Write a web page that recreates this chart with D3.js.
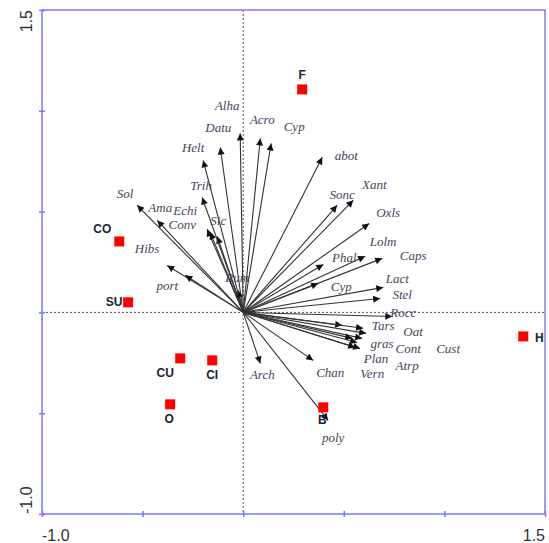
<!DOCTYPE html>
<html>
<head>
<meta charset="utf-8">
<script src="https://cdn.jsdelivr.net/npm/d3@7"></script>
<style>
  html, body { margin: 0; padding: 0; background: #fff; }
  svg { display: block; }
</style>
</head>
<body>
<svg id="chart" width="549" height="543"></svg>
<script>
// Species vectors (biplot arrows from the origin)
const speciesNames = ["Alha","Datu","Helt","Acro","Cyp","abot","Sonc","Xant","Oxls","Lolm",
  "Caps","Phal","Cyp","Lact","Stel","Rocc","Tars","Oat","gras","Cont","Cust","Plan","Vern","Atrp",
  "Chan","Arch","poly","Sol","Ama","Echi","Conv","Sic","Trih","Hibs","port","Rum"];
const speciesX = [-0.015,-0.114,-0.199,0.085,0.139,0.393,0.467,0.547,0.626,0.606,
  0.691,0.398,0.373,0.696,0.681,0.741,0.492,0.596,0.591,0.542,0.611,0.581,0.557,0.566,
  0.348,0.085,0.422,-0.527,-0.427,-0.179,-0.164,-0.129,-0.204,-0.378,-0.288,-0.025];
const speciesY = [0.888,0.818,0.754,0.863,0.838,0.769,0.531,0.556,0.441,0.278,
  0.268,0.238,0.144,0.124,0.069,-0.020,-0.064,-0.079,-0.129,-0.129,-0.104,-0.179,-0.174,-0.149,
  -0.238,-0.253,-0.536,0.531,0.456,0.412,0.397,0.377,0.570,0.233,0.184,0.109];

// Sites (sample scores)
const siteNames = ["F","CO","SU","H","CU","CI","O","B"];
const siteX = [0.293,-0.616,-0.572,1.392,-0.313,-0.154,-0.363,0.398];
const siteY = [1.106,0.352,0.050,-0.119,-0.228,-0.238,-0.456,-0.471];

// Axis tick labels (only the extremes are labelled)
const xTickLabels = ["-1.0","1.5"];
const yTickLabels = ["1.5","-1.0"];
const tickValues = [-1.0,-0.5,0,0.5,1.0,1.5];

// Label placement (pixel offsets from the arrow tip / site marker)
const speciesLabelOffset = [
  [-13,-28],[-2,-20],[-10,-13],[2,-19],[23,-17],[24,-2],[5,-11],[21,-16],[19,-11],[18,-15],
  [31,-3],[21,-7],[23,3],[14,-9],[22,-4],[11,-4],[41,0],[50,3],[20,5],[56,10],[82,15],[16,10],[17,26],[50,23],
  [17,12],[2,11],[5,17],[-12,-12],[3,-13],[-22,-19],[-28,-8],[1,-16],[-1,-12],[-20,-17],[-18,10],[-1,-13]
];
const siteLabelOffset = [[0,-15],[-17,-13],[-14,-1],[16,1],[-15,14],[0,14],[-1,14],[-1,12]];

const svg = d3.select("#chart");
const plotLeft = 42, plotRight = 545, plotTop = 10, plotBottom = 514;

const x = d3.scaleLinear().domain([-1.0, 1.5]).range([plotLeft, plotRight]);
const y = d3.scaleLinear().domain([-1.0, 1.5]).range([plotBottom, plotTop]);

// arrowhead marker
svg.append("defs").append("marker")
  .attr("id", "head")
  .attr("viewBox", "0 0 10 10")
  .attr("refX", 10).attr("refY", 5)
  .attr("markerWidth", 9).attr("markerHeight", 7)
  .attr("markerUnits", "userSpaceOnUse")
  .attr("orient", "auto")
  .append("path").attr("d", "M0,0 L10,5 L0,10 z").attr("fill", "#111");

// zero reference lines
svg.append("line")
  .attr("x1", x(0)).attr("x2", x(0)).attr("y1", plotTop).attr("y2", plotBottom)
  .attr("stroke", "#555").attr("stroke-width", 1).attr("stroke-dasharray", "2,2");
svg.append("line")
  .attr("x1", plotLeft).attr("x2", plotRight).attr("y1", y(0)).attr("y2", y(0))
  .attr("stroke", "#555").attr("stroke-width", 1).attr("stroke-dasharray", "2,2");

// frame
svg.append("rect")
  .attr("x", plotLeft).attr("y", plotTop).attr("width", plotRight - plotLeft).attr("height", plotBottom - plotTop)
  .attr("fill", "none").attr("stroke", "#7878ff").attr("stroke-width", 1.5);

// bottom and left axes: ticks only
const xAxis = d3.axisBottom(x).tickValues(tickValues).tickSize(3).tickFormat("");
const yAxis = d3.axisLeft(y).tickValues(tickValues).tickSize(3).tickFormat("");
const gx = svg.append("g").attr("transform", `translate(0,${plotBottom})`).call(xAxis);
const gy = svg.append("g").attr("transform", `translate(${plotLeft},0)`).call(yAxis);
[gx, gy].forEach(g => {
  g.select(".domain").remove();
  g.selectAll(".tick line").attr("stroke", "#7878ff").attr("stroke-width", 1.5);
});
gx.selectAll(".tick line").attr("y1", -3).attr("y2", 3);
gy.selectAll(".tick line").attr("x1", -3).attr("x2", 3);

// tick labels at the axis ends
const tickFont = "Liberation Sans, Arial, sans-serif";
svg.append("text").attr("x", x(-1.0)).attr("y", 541)
  .attr("font-family", tickFont).attr("font-size", 16)
  .attr("fill", "#333").attr("text-anchor", "start").text(xTickLabels[0]);
svg.append("text").attr("x", x(1.5)).attr("y", 541)
  .attr("font-family", tickFont).attr("font-size", 16)
  .attr("fill", "#333").attr("text-anchor", "end").text(xTickLabels[1]);
svg.append("text").attr("transform", `translate(32,${y(1.5)}) rotate(-90)`)
  .attr("font-family", tickFont).attr("font-size", 16)
  .attr("fill", "#333").attr("text-anchor", "end").text(yTickLabels[0]);
svg.append("text").attr("transform", `translate(32,${y(-1.0)}) rotate(-90)`)
  .attr("font-family", tickFont).attr("font-size", 16)
  .attr("fill", "#333").attr("text-anchor", "start").text(yTickLabels[1]);

// species arrows
const species = speciesNames.map((n, i) => ({ name: n, x: speciesX[i], y: speciesY[i], off: speciesLabelOffset[i] }));
svg.append("g").selectAll("line").data(species).join("line")
  .attr("x1", x(0)).attr("y1", y(0))
  .attr("x2", d => x(d.x)).attr("y2", d => y(d.y))
  .attr("stroke", "#333").attr("stroke-width", 1.1)
  .attr("marker-end", "url(#head)");

svg.append("g").selectAll("text").data(species).join("text")
  .attr("x", d => x(d.x) + d.off[0]).attr("y", d => y(d.y) + d.off[1])
  .attr("dy", "0.35em").attr("text-anchor", "middle")
  .attr("font-family", "Liberation Serif, Times New Roman, serif")
  .attr("font-style", "italic").attr("font-size", 13)
  .attr("fill", "#45455a").text(d => d.name);

// sites
const sites = siteNames.map((n, i) => ({ name: n, x: siteX[i], y: siteY[i], off: siteLabelOffset[i] }));
svg.append("g").selectAll("rect").data(sites).join("rect")
  .attr("x", d => x(d.x) - 5).attr("y", d => y(d.y) - 5)
  .attr("width", 10).attr("height", 10).attr("fill", "#ff0000");
svg.append("g").selectAll("text").data(sites).join("text")
  .attr("x", d => x(d.x) + d.off[0]).attr("y", d => y(d.y) + d.off[1])
  .attr("dy", "0.35em").attr("text-anchor", "middle")
  .attr("font-family", "Liberation Sans, Arial, sans-serif")
  .attr("font-weight", "bold").attr("font-size", 12)
  .attr("fill", "#1e1e2e").text(d => d.name);
</script>
</body>
</html>
